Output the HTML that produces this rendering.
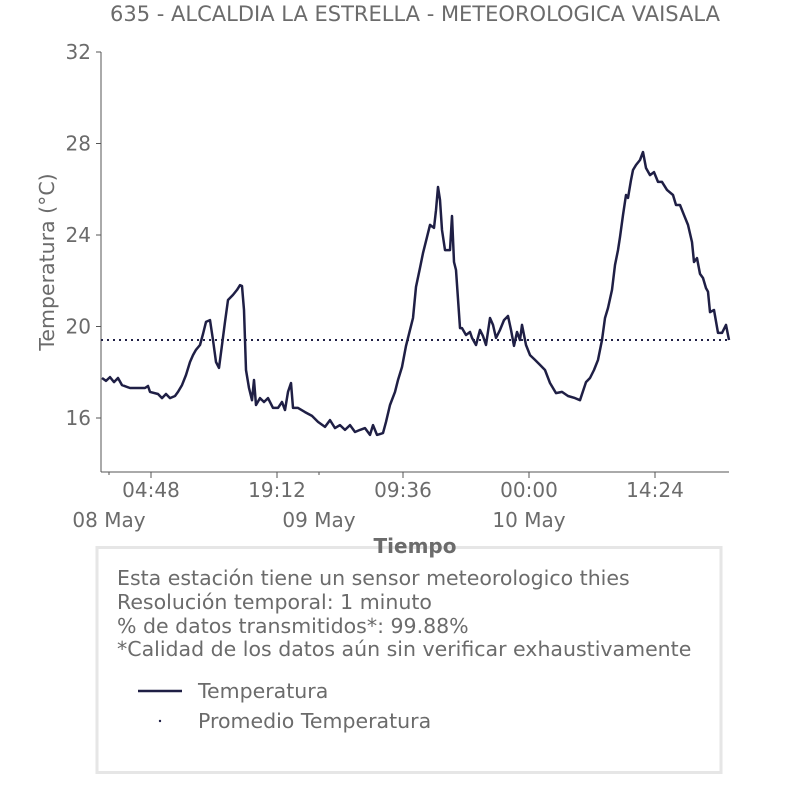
<!DOCTYPE html>
<html><head><meta charset="utf-8"><style>
body{margin:0;background:#fff;}
svg text{font-family:"DejaVu Sans","Liberation Sans",sans-serif;fill:#6b6b6b;}
</style></head><body>
<svg id="c" width="806" height="806" xmlns="http://www.w3.org/2000/svg">
<text x="415" y="21" text-anchor="middle" font-size="21">635 - ALCALDIA LA ESTRELLA - METEOROLOGICA VAISALA</text>
<g id="plot"></g>
<text transform="translate(54,262) rotate(-90)" text-anchor="middle" font-size="20.5">Temperatura (°C)</text>
<rect x="97" y="547.5" width="624" height="225" fill="#fff" stroke="#e6e6e6" stroke-width="3"/>
<text x="415" y="553" text-anchor="middle" font-size="20" font-weight="bold">Tiempo</text>
<g font-size="20.5">
<text x="117" y="585">Esta estación tiene un sensor meteorologico thies</text>
<text x="117" y="609">Resolución temporal: 1 minuto</text>
<text x="117" y="633">% de datos transmitidos*: 99.88%</text>
<text x="117" y="656">*Calidad de los datos aún sin verificar exhaustivamente</text>
</g>
<g><line x1="138" y1="691" x2="182" y2="691" stroke="#1f1f45" stroke-width="2.5"/><text x="198" y="698" font-size="20.5">Temperatura</text></g>
<g><circle cx="160" cy="721" r="1.2" fill="#1f1f45"/><text x="198" y="728" font-size="20.5">Promedio Temperatura</text></g>
</svg>
<script>
const hours=[-0.8,-0.34,0.11,0.57,1.03,1.49,2.4,4.11,4.46,4.69,5.6,6.06,6.51,6.97,7.54,7.89,8.34,8.8,9.26,9.6,9.94,10.4,10.74,11.09,11.54,11.89,12.23,12.57,12.91,13.26,13.6,14.17,14.63,14.97,15.2,15.43,15.66,16.0,16.34,16.57,16.8,17.26,17.71,18.17,18.74,19.31,19.77,20.11,20.46,20.8,21.03,21.6,22.4,23.2,23.89,24.69,25.26,25.83,26.4,26.97,27.54,28.11,28.69,29.26,29.83,30.17,30.63,31.31,31.66,32.11,32.69,33.03,33.49,33.94,34.4,34.74,35.09,35.54,35.89,36.34,36.69,37.14,37.37,37.6,37.83,38.06,38.4,38.74,38.97,39.2,39.43,39.66,40.11,40.34,40.8,41.26,41.49,41.94,42.4,42.74,43.09,43.54,43.89,44.23,44.69,45.14,45.6,45.94,46.29,46.63,46.97,47.2,47.66,48.11,48.69,49.26,49.83,50.4,51.09,51.77,52.46,53.26,53.83,54.51,54.97,55.43,55.89,56.34,56.69,57.03,57.49,57.83,58.17,58.4,58.74,59.09,59.31,59.66,59.89,60.23,60.69,61.03,61.37,61.83,62.29,62.74,63.2,63.77,64.46,64.8,65.26,65.71,66.17,66.63,66.86,67.2,67.54,67.89,68.23,68.46,68.69,69.14,69.6,70.06,70.51,70.86];
const temps=[17.75,17.62,17.79,17.57,17.75,17.44,17.31,17.31,17.4,17.14,17.05,16.87,17.05,16.87,16.96,17.14,17.44,17.88,18.45,18.75,18.98,19.19,19.67,20.2,20.28,19.41,18.45,18.19,19.19,20.2,21.16,21.38,21.6,21.81,21.77,20.72,18.1,17.31,16.78,17.66,16.57,16.87,16.7,16.87,16.44,16.44,16.7,16.35,17.14,17.53,16.44,16.44,16.26,16.09,15.83,15.61,15.91,15.56,15.69,15.48,15.69,15.39,15.48,15.56,15.26,15.69,15.26,15.34,15.83,16.57,17.14,17.66,18.23,19.15,19.85,20.37,21.73,22.56,23.21,23.91,24.44,24.31,25.09,26.1,25.53,24.22,23.34,23.34,23.34,24.83,22.82,22.47,19.93,19.93,19.63,19.76,19.5,19.19,19.85,19.58,19.19,20.37,20.07,19.5,19.85,20.28,20.46,19.85,19.15,19.76,19.41,20.07,19.19,18.75,18.54,18.32,18.1,17.53,17.09,17.14,16.96,16.87,16.78,17.57,17.75,18.1,18.54,19.41,20.37,20.81,21.6,22.69,23.34,23.91,24.87,25.75,25.62,26.4,26.84,27.06,27.28,27.63,26.93,26.62,26.75,26.32,26.32,25.97,25.75,25.31,25.31,24.87,24.44,23.69,22.82,22.99,22.3,22.12,21.68,21.52,20.63,20.72,19.72,19.72,20.07,19.41];
const meanTemp=19.41;
const yTicks=[16,20,24,28,32];
const xTickHours=[4.8,19.2,33.6,48,62.4];
const xTickLabels=["04:48","19:12","09:36","00:00","14:24"];
const dayHours=[0,24,48];
const dayLabels=["08 May","09 May","10 May"];
const NS="http://www.w3.org/2000/svg";
const L=101,R=729,T=52,B=472;
const xs=h=>109+h*8.75;
const ys=t=>418-(t-16)*22.875;
const g=document.getElementById('plot');
function el(tag,attrs){const e=document.createElementNS(NS,tag);for(const k in attrs)e.setAttribute(k,attrs[k]);g.appendChild(e);return e;}
let a=el('line',{x1:L,y1:T,x2:L,y2:B,stroke:'#555','stroke-width':1});

a=el('line',{x1:L,y1:B,x2:R,y2:B,stroke:'#555','stroke-width':1});

yTicks.forEach(v=>{const y=ys(v);
 const t=el('line',{x1:L-5,y1:y,x2:L,y2:y,stroke:'#555'});
 
 const tx=el('text',{x:L-10,y:y+7,'text-anchor':'end','font-size':20});tx.textContent=v;
 });
xTickHours.forEach((h,i)=>{const x=xs(h);
 const t=el('line',{x1:x,y1:B,x2:x,y2:B+6,stroke:'#555'});
 
 const tx=el('text',{x:x,y:B+25,'text-anchor':'middle','font-size':20});tx.textContent=xTickLabels[i];
 });
dayHours.forEach((h,i)=>{const x=xs(h);
 const t=el('line',{x1:x,y1:B,x2:x,y2:B+3,stroke:'#555'});
 
 const tx=el('text',{x:x,y:B+55,'text-anchor':'middle','font-size':20});tx.textContent=dayLabels[i];
 });
const m=el('line',{x1:L,y1:ys(meanTemp),x2:R,y2:ys(meanTemp),stroke:'#1f1f45','stroke-width':2,'stroke-dasharray':'2 4'});

const p=el('path',{d:hours.map((h,i)=>(i?'L':'M')+xs(h).toFixed(1)+','+ys(temps[i]).toFixed(1)).join(''),fill:'none',stroke:'#1f1f45','stroke-width':2.5,'stroke-linejoin':'round'});

</script>
</body></html>
